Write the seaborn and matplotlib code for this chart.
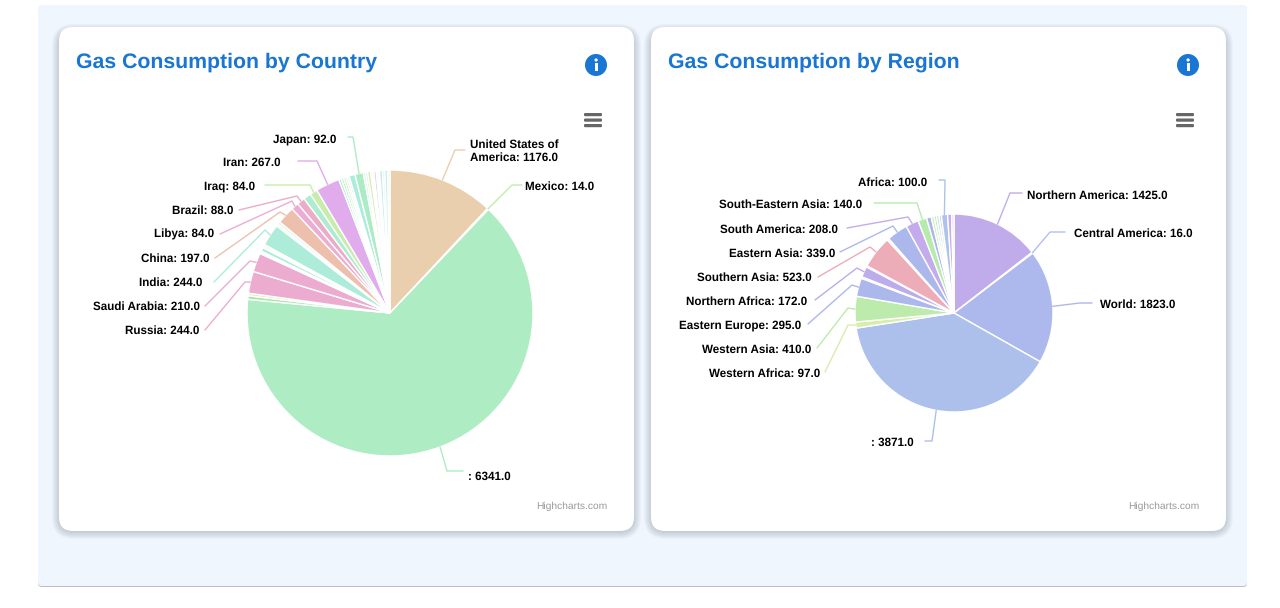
import math
import matplotlib
matplotlib.use("Agg")
import matplotlib.pyplot as plt
from matplotlib.patches import FancyBboxPatch, Circle, Rectangle
import seaborn as sns

# values, clockwise from 12 o'clock (None = slice with no label)
country_names = ["United States of\nAmerica", "Mexico", "", None, None, "Russia", "Saudi Arabia", None, None, None,
                 None, None, "India", None, None, "China", "Libya", "Brazil", None, "Iraq", "Iran",
                 None, None, None, None, None, None, "Japan",
                 None, None, None, None, None, None, None, None, None, None, None, None]
country_values = [1176, 14, 6341, 40, 28, 244, 210, 14, 16, 42,
                  18, 20, 244, 20, 35, 197, 84, 88, 85, 84, 267,
                  28, 26, 24, 20, 22, 66, 92,
                  26, 22, 34, 18, 18, 26, 18, 18, 34, 24, 34, 24]
country_colors = ["#e9cfae", "#c0ecac", "#aeecc4", "#a8e8b0", "#e8ecb5", "#ecacd0", "#ecacd0", "#dcacec", "#ecacd8", "#acecd8",
                  "#ecd0ac", "#d8ecac", "#acecd9", "#c5ecac", "#eaf6ea", "#ecc0ac", "#ecacd4", "#ecacc8", "#acecd0", "#c8ecac", "#e0acec",
                  "#acecd8", "#b8ecac", "#acecc0", "#ecc4ac", "#d4f2ec", "#acecdc", "#acecc4",
                  "#d4f2ec", "#c4eccc", "#d8ecac", "#f0f6f0", "#e8f4f4", "#d4c8f0", "#f0f0fa", "#f0faf6", "#ccecec", "#dcf4e0", "#cceef0", "#e4f4f4"]

region_names = ["Northern America", "Central America", "World", "", "Western Africa", "Western Asia", "Eastern Europe", None,
                "Northern Africa", None, "Southern Asia", None, "Eastern Asia", "South America", "South-Eastern Asia",
                None, None, None, None, None, "Africa", None, None]
region_values = [1425, 16, 1823, 3871, 97, 410, 295, 25,
                 172, 20, 523, 30, 339, 208, 140,
                 75, 45, 40, 40, 38, 100, 65, 37]
region_colors = ["#c1aceb", "#b0c0ee", "#adb9ec", "#adc0ec", "#d9ecac", "#bcebac", "#acb8ec", "#c8d4f0",
                 "#bcacec", "#d0e4f0", "#ecacb8", "#c8ecac", "#acb8ec", "#c4acec", "#b5ecac",
                 "#acb4ec", "#d9ecac", "#b8ecc0", "#acecd4", "#ecc4e0", "#acc4ec", "#c8acec", "#e0d8f4"]

# layout in picture pixels: text x, text y, alignment, connector start, connector knee
country_layout = {
    "United States of\nAmerica": (470, 151.5, "left", (465, 150), (455, 150)),
    "Mexico": (525, 186.5, "left", (522, 185), (512, 185)),
    "": (468, 476.5, "left", (463, 471), (447, 471)),
    "Russia": (199.5, 330.5, "right", (205, 330), (245, 282)),
    "Saudi Arabia": (200, 306.5, "right", (205, 306), (250, 261)),
    "India": (202.5, 282.5, "right", (214, 282), (265, 230)),
    "China": (209.5, 258.5, "right", (215, 258), (280, 212)),
    "Libya": (214, 234.5, "right", (220, 234), (292, 201)),
    "Brazil": (233, 210.5, "right", (239, 210), (297, 196)),
    "Iraq": (255, 186.5, "right", (265, 185), (310, 185)),
    "Iran": (281, 162.5, "right", (298, 161), (317, 161)),
    "Japan": (336, 139.5, "right", (348, 137), (353, 137)),
}
region_layout = {
    "Northern America": (1027, 195.5, "left", (1022, 193), (1010, 193)),
    "Central America": (1074, 233.5, "left", (1065, 232), (1050, 232)),
    "World": (1100, 304.5, "left", (1092, 303), (1080, 303)),
    "": (914, 442.5, "right", (925, 441), (932, 441)),
    "Western Africa": (820, 373.5, "right", (825, 372), (848, 325)),
    "Western Asia": (811, 349.5, "right", (817, 348), (848, 308)),
    "Eastern Europe": (801, 325.5, "right", (808, 324), (852, 285)),
    "Northern Africa": (807, 301.5, "right", (815, 300), (857, 268)),
    "Southern Asia": (812, 277.5, "right", (818, 277), (870, 247)),
    "Eastern Asia": (835, 253.5, "right", (840, 252), (893, 226)),
    "South America": (838, 229.5, "right", (847, 228), (908, 217)),
    "South-Eastern Asia": (862, 204.5, "right", (874, 203), (917, 203)),
    "Africa": (927, 182.5, "right", (939, 180), (945, 180)),
}

W, H = 1280, 608
sns.set_theme(style="white")
plt.rcParams["font.family"] = ["Liberation Sans", "DejaVu Sans"]
plt.rcParams["text.hinting"] = "none"

fig = plt.figure(figsize=(W / 100, H / 100), dpi=100, facecolor="white")
bg = fig.add_axes([0, 0, 1, 1], zorder=0)
bg.set_xlim(0, W)
bg.set_ylim(H, 0)
bg.axis("off")
top = fig.add_axes([0, 0, 1, 1], zorder=5)
top.set_xlim(0, W)
top.set_ylim(H, 0)
top.axis("off")
top.patch.set_alpha(0)


def rounded(ax, x0, y0, x1, y1, r, **kw):
    ax.add_patch(FancyBboxPatch((x0 + r, y0 + r), x1 - x0 - 2 * r, y1 - y0 - 2 * r,
                                boxstyle=f"round,pad={r},rounding_size={r}", linewidth=0, **kw))


# outer panel with its thin shadow
rounded(bg, 38, 6, 1247, 587, 4, facecolor="#bdbdbd")
rounded(bg, 38, 5, 1247, 586, 4, facecolor="#eff6fd")


def card(x0, title):
    x1 = x0 + 575
    for i in range(8, 0, -1):
        rounded(bg, x0 - i + 1, 27 - i + 5, x1 + i - 1, 531 + i, 14 + i, facecolor="#5a6a7a", alpha=0.04)
    rounded(bg, x0, 27, x1, 531, 14, facecolor="white")
    top.text(x0 + 17, 62, title, color="#1976d2", fontsize=15.3, fontweight="bold", va="center", ha="left")
    # info icon
    top.add_patch(Circle((x0 + 537, 65), 11, facecolor="#1976d2", edgecolor="none"))
    top.add_patch(Rectangle((x0 + 535.6, 63), 3, 7.6, facecolor="white", edgecolor="none"))
    top.add_patch(Circle((x0 + 537.1, 60), 1.6, facecolor="white", edgecolor="none"))
    # menu icon
    for y in (113, 118.5, 124):
        rounded(top, x0 + 525, y, x0 + 543, y + 3.2, 1.2, facecolor="#666666")
    top.text(x0 + 548, 506, "Highcharts.com", color="#999999", fontsize=7.4, va="center", ha="right")


def pie(cx, cy, r, values, colors, names, layout):
    half = r * 1.25
    ax = fig.add_axes([(cx - half) / W, 1 - (cy + half) / H, 2 * half / W, 2 * half / H], zorder=2)
    wedges, _ = ax.pie(values, colors=sns.color_palette(colors), startangle=90, counterclock=False,
                       wedgeprops={"edgecolor": "white", "linewidth": 1.0})
    ax.set_xlim(-1.25, 1.25)
    ax.set_ylim(-1.25, 1.25)
    for w, name, value, color in zip(wedges, names, values, colors):
        if name is None:
            continue
        x, y, ha, start, knee = layout[name]
        mid = math.radians((w.theta1 + w.theta2) / 2)
        edge = (cx + r * math.cos(mid), cy - r * math.sin(mid))
        top.plot([start[0], knee[0], edge[0]], [start[1], knee[1], edge[1]], color=color, lw=1,
                 solid_joinstyle="round")
        top.text(x, y, f"{name}: {value:.1f}", ha=ha, va="center", fontsize=8.4, fontweight="bold",
                 color="black", linespacing=1.25)


card(59, "Gas Consumption by Country")
card(651, "Gas Consumption by Region")
pie(390, 313, 143, country_values, country_colors, country_names, country_layout)
pie(954, 313, 99, region_values, region_colors, region_names, region_layout)

fig.savefig("out.png", dpi=100, facecolor="white")
